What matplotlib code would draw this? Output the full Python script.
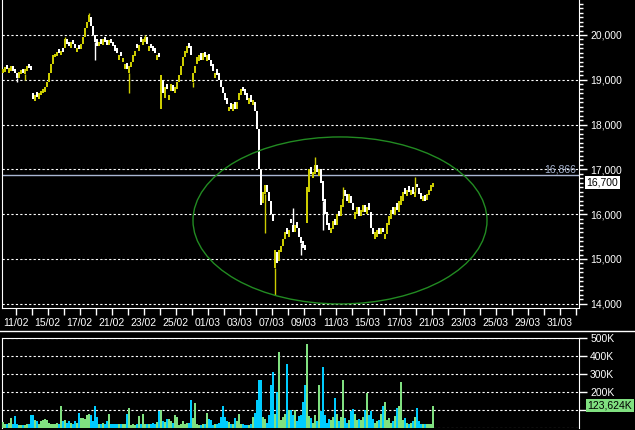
import numpy as np
import matplotlib
matplotlib.use("Agg")
import matplotlib.pyplot as plt
from matplotlib.patches import Ellipse
from matplotlib.lines import Line2D
from matplotlib.ticker import MultipleLocator
from matplotlib.transforms import blended_transform_factory

plt.rcParams["font.family"] = ["Liberation Sans", "DejaVu Sans"]

# intraday bars (8 bars per trading day)
opens = [
    19150, 19180, 19330, 19160, 19200, 19300, 19250, 19150, 19050, 19120, 19250, 19120, 19200, 19350, 19300,
    18700, 18520, 18720, 18580, 18650, 18700, 18720, 18830,
    18950, 19150, 19350,
    19500, 19530, 19680, 19560, 19700,
    19700, 19900, 19850, 19720, 19880, 19800, 19620, 19780,
    19680, 19800, 19950, 20150, 20300,
    20400, 20200, 20000, 19900,
    19750, 19900, 19780, 19950, 19880, 19780, 19920, 19850,
    19780, 19700, 19450, 19620, 19400,
    19250, 19380, 19150, 19280,
    19400, 19520, 19800, 19650, 19950, 19780, 19850,
    19950, 19650, 19800, 19750, 19700, 19450, 19600,
    18350, 19000, 18600,
    18900, 18550, 18750, 18880, 18700, 18800,
    18950, 19100, 19300, 19500, 19600, 19820,
    19750, 18950,
    19150, 19350, 19420, 19600, 19450, 19620, 19420, 19580,
    19450, 19350, 19050, 19250, 19150,
    19000, 18850, 18700, 18600,
    18300, 18480, 18300, 18500, 18350,
    18550, 18650, 18850, 18800,
    18700, 18450, 18650, 18430,
    18500, 18300,
    17900, 17000, 16250, 16450,
    16650, 16500, 16300, 16000,
    14800, 15150, 14950,
    15150, 15300, 15450, 15700,
    15500, 15900, 15750, 15600, 15820,
    15700, 15500, 15400, 15320,
    15800, 16500,
    17050, 16800, 16900, 17100, 16850,
    17000, 16750, 16350, 16050, 15800,
    15580, 15680, 15900, 15750, 16080,
    15950, 16150, 16550, 16450, 16250, 16400,
    16250, 15900, 16000, 16150, 15950, 16050, 16200, 16000, 16250,
    16050, 15700,
    15450, 15500, 15700, 15550, 15700, 15450,
    15550, 15750, 15900, 16150, 15980, 16250,
    16050, 16200, 16300, 16580, 16400,
    16620, 16420, 16600, 16380, 16680, 16580,
    16480, 16300, 16420,
    16320, 16420, 16520, 16600,
]
closes = [
    19250, 19280, 19230, 19260, 19300, 19200, 19150, 19050, 19180, 19220, 19150, 19250, 19300, 19270, 19220,
    18580, 18650, 18620, 18700, 18750, 18800, 18850, 18950,
    19150, 19350, 19550,
    19580, 19620, 19600, 19650, 19620,
    19900, 19800, 19750, 19850, 19800, 19700, 19720, 19680,
    19800, 19950, 20150, 20300, 20450,
    20200, 20000, 19850, 19750,
    19850, 19800, 19900, 19850, 19780, 19880, 19820, 19750,
    19650, 19600, 19550, 19520, 19480,
    19350, 19250, 19300, 19400,
    19550, 19650, 19700, 19780, 19850, 19900, 19950,
    19800, 19750, 19700, 19650, 19600, 19550, 19500,
    19100, 18700, 18850,
    18800, 18650, 18900, 18750, 18850, 18950,
    19100, 19300, 19500, 19650, 19750, 19700,
    19550, 19150,
    19300, 19500, 19550, 19450, 19600, 19500, 19550, 19450,
    19300, 19200, 19150, 19100, 19000,
    18850, 18700, 18550, 18450,
    18400, 18350, 18450, 18350, 18500,
    18700, 18800, 18750, 18650,
    18550, 18600, 18500, 18550,
    18300, 17900,
    17000, 16200, 16500, 16650,
    16500, 16300, 16000, 15850,
    15200, 14900, 15200,
    15300, 15450, 15600, 15550,
    15650, 15800, 15600, 15750, 15700,
    15500, 15350, 15250, 15200,
    16600, 17000,
    16900, 16950, 17100, 16950, 17000,
    16700, 16300, 16000, 15750, 15650,
    15700, 15850, 15750, 16000, 15950,
    16200, 16350, 16400, 16300, 16450, 16250,
    16100, 16050, 16150, 15950, 16100, 16200, 16050, 16150, 16100,
    15700, 15550,
    15600, 15650, 15550, 15700, 15600, 15550,
    15800, 15950, 16100, 16000, 16150, 16100,
    16300, 16400, 16500, 16450, 16550,
    16500, 16550, 16450, 16500, 16600, 16450,
    16350, 16400, 16300,
    16450, 16550, 16650, 16700,
]

# notable wicks (bar index -> extreme)
wick_low = {7: 18950, 11: 19000, 46: 19450, 63: 18700, 95: 18850, 131: 15580, 136: 14200, 149: 15100, 160: 15650}
wick_high = {31: 19950, 43: 20500, 71: 20000, 145: 16140, 156: 17280, 170: 16600, 206: 16830}

# volume in thousands
volume = [
    35, 25, 20, 30, 58, 25, 65, 20, 15, 15,
    15, 15, 25, 25, 70, 72, 44, 40, 25, 40,
    44, 48, 44, 30, 25, 25, 20, 30, 20, 120,
    40, 47, 30, 40, 30, 20, 40, 30, 82, 58,
    55, 50, 75, 80, 70, 40, 125, 62, 20, 25,
    30, 25, 40, 76, 25, 20, 25, 20, 25, 20,
    25, 20, 76, 109, 15, 25, 15, 20, 65, 25,
    76, 25, 20, 20, 20, 30, 25, 35, 93, 102,
    38, 35, 49, 49, 40, 30, 71, 60, 15, 20,
    38, 20, 30, 30, 153, 55, 138, 20, 15, 15,
    20, 25, 82, 50, 47, 15, 20, 25, 30, 60,
    125, 60, 40, 35, 20, 20, 58, 40, 76, 20,
    20, 15, 15, 15, 20, 62, 85, 156, 265, 265,
    60, 50, 30, 70, 240, 311, 80, 202, 425, 45,
    60, 80, 356, 102, 100, 75, 98, 40, 65, 70,
    147, 240, 469, 65, 53, 30, 71, 40, 240, 95,
    338, 71, 30, 50, 45, 60, 169, 80, 40, 60,
    267, 55, 30, 47, 93, 107, 76, 45, 50, 45,
    60, 102, 196, 70, 93, 49, 30, 40, 44, 80,
    120, 142, 45, 58, 30, 40, 65, 113, 120, 256,
    44, 53, 30, 25, 30, 40, 60, 113, 40, 25,
    22, 20, 22, 22, 25, 123.624,
]

date_labels = ["11/02", "15/02", "17/02", "21/02", "23/02", "25/02", "01/03", "03/03", "07/03",
               "09/03", "11/03", "15/03", "17/03", "21/03", "23/03", "25/03", "29/03", "31/03"]

last_price = 16700
ref_price = 16866

opens = np.array(opens, dtype=float)
closes = np.array(closes, dtype=float)
idx = np.arange(len(closes))
up = closes >= opens

YELLOW = "#cccc00"
GREEN = "#80e080"
CYAN = "#00ccff"
LINE_BLUE = "#a9b6d2"
FS = 7.5

fig = plt.figure(figsize=(6.35, 4.3), dpi=100, facecolor="black")

# price panel
ax = fig.add_axes([2 / 635, 122 / 430, 577 / 635, 308 / 430], facecolor="black")
ax.set_xlim(-0.5, 288)
ax.set_ylim(13906, 20781)

ax.bar(idx, closes - opens, bottom=opens, width=0.95,
       color=np.where(up, YELLOW, "white"), linewidth=0, zorder=3)
for i, lo in wick_low.items():
    ax.vlines(i, lo, min(opens[i], closes[i]), color=YELLOW if up[i] else "white", lw=1, zorder=3)
for i, hi in wick_high.items():
    ax.vlines(i, max(opens[i], closes[i]), hi, color=YELLOW if up[i] else "white", lw=1, zorder=3)

ax.axhline(ref_price, color=LINE_BLUE, lw=1, zorder=2)
ax.add_patch(Ellipse((168.5, 15860), 147, 3728, fill=False, ec="#228b22", lw=1, zorder=4))

ax.yaxis.tick_right()
ax.set_yticks(range(14000, 20001, 1000))
ax.set_yticklabels([f"{v:,}" for v in range(14000, 20001, 1000)])
ax.yaxis.set_minor_locator(MultipleLocator(100))
ax.grid(axis="y", which="major", color="white", linestyle=(0, (2, 2)), lw=0.8)

day_ticks = 6.35 + 8 * np.arange(2 * len(date_labels))
ax.set_xticks(day_ticks)
ax.set_xticklabels([date_labels[k // 2] if k % 2 == 0 else "" for k in range(len(day_ticks))])

ax.tick_params(axis="both", which="both", colors="white", labelcolor="white", labelsize=FS, direction="out")
ax.tick_params(axis="y", which="major", length=6, width=1, pad=2)
ax.tick_params(axis="y", which="minor", length=3, width=1)
ax.tick_params(axis="x", which="major", length=5, width=1, pad=2)
for s in ["left", "bottom", "right"]:
    ax.spines[s].set_color("white")
ax.spines["top"].set_visible(False)

tr = blended_transform_factory(ax.transAxes, ax.transData)
ax.text(1.013, last_price, f"{last_price:,}", transform=tr, ha="left", va="center", fontsize=FS,
        color="black", bbox=dict(fc="white", ec="none", pad=1.2), clip_on=False, zorder=6)
ax.text(0.9948, ref_price + 20, f"{ref_price:,}", transform=tr, ha="right", va="bottom",
        fontsize=FS, color=LINE_BLUE, zorder=5)

# volume panel
vx = fig.add_axes([2 / 635, 2 / 430, 577 / 635, 90 / 430], facecolor="black")
vx.set_xlim(-0.5, 288)
vx.set_ylim(0, 500)
vx.bar(idx, volume, width=1.0, color=np.where(up, GREEN, CYAN), linewidth=0, zorder=3)
vx.yaxis.tick_right()
vx.set_yticks([100, 200, 300, 400, 500])
# 100K sits under the last-volume box
vx.set_yticklabels(["", "200K", "300K", "400K", "500K"])
vx.set_xticks([])
vx.grid(axis="y", color="white", linestyle=(0, (2, 2)), lw=0.8)
vx.axhline(0, color="white", linestyle=(0, (2, 2)), lw=0.8)
vx.tick_params(axis="y", colors="white", labelcolor="white", labelsize=FS, length=6, width=1, pad=2)
for s in ["left", "top", "right"]:
    vx.spines[s].set_color("white")
vx.spines["bottom"].set_visible(False)
vtr = blended_transform_factory(vx.transAxes, vx.transData)
vx.text(1.015, volume[-1], f"{volume[-1]:,.3f}".replace(".", ",") + "K", transform=vtr,
        ha="left", va="center", fontsize=FS, color="black",
        bbox=dict(fc=GREEN, ec="none", pad=1.2), clip_on=False, zorder=6)

fig.add_artist(Line2D([0, 1], [1 - 331 / 430] * 2, color="white", lw=1))

fig.savefig("out.png", dpi=100, facecolor="black")
